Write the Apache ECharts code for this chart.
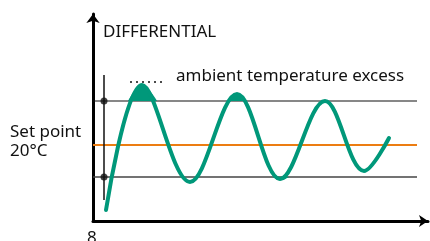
<!DOCTYPE html>
<html>
<head>
<meta charset="utf-8">
<script src="https://cdn.jsdelivr.net/npm/echarts@6/dist/echarts.min.js"></script>
<style>
  html, body { margin: 0; padding: 0; background: #fff; }
  #chart { width: 430px; height: 241px; }
</style>
</head>
<body>
<div id="chart"></div>
<script>
// time (t) vs temperature (°C), schematic
var setPoint = 20;
var upperLimit = 24.4;
var lowerLimit = 16.8;
var lineEnd = 324;

// room temperature curve: start, turning points, end
var wave = [
  [13, 13.5], [49, 26.0], [97, 16.3], [144, 25.1], [187, 16.6],
  [232, 24.4], [271, 17.4], [296, 20.7]
];
// parts of the curve going beyond the differential band
var excessAbove = [
  [[35, 24.4], [49, 26.0], [64, 24.4]],
  [[135, 24.4], [144, 25.1], [154, 24.4]]
];
var excessBelow = [
  [[180, 16.8], [187, 16.45], [196, 16.8]]
];
var marker = [[11, 27.0], [11, 14.5]];
var markerDots = [[11, upperLimit], [11, lowerLimit]];
var dotted = [[37, 26.3], [72, 26.3]];

var green = '#00987a';
var font = '"Noto Sans"';

var chart = echarts.init(document.getElementById('chart'));

var series = [];
function hline(v, color, w) {
  series.push({
    type: 'line', data: [[0, v], [lineEnd, v]], symbol: 'none', silent: true,
    lineStyle: { color: color, width: w }, z: 1
  });
}
hline(upperLimit, '#111', 1.2);
hline(lowerLimit, '#444', 1.5);
hline(setPoint, '#ec7d12', 2);

excessAbove.forEach(function (d) {
  series.push({
    type: 'line', data: d, smooth: 0.4, symbol: 'none', silent: true,
    lineStyle: { width: 0 },
    areaStyle: { color: green, opacity: 1, origin: upperLimit }, z: 2
  });
});
excessBelow.forEach(function (d) {
  series.push({
    type: 'line', data: d, smooth: 0.4, symbol: 'none', silent: true,
    lineStyle: { width: 0 },
    areaStyle: { color: green, opacity: 1, origin: lowerLimit }, z: 2
  });
});

series.push({
  type: 'line', data: wave, smooth: 0.36, symbol: 'none', silent: true,
  lineStyle: { color: green, width: 4, cap: 'round' }, z: 3
});
series.push({
  type: 'line', data: marker, symbol: 'none', silent: true,
  lineStyle: { color: '#111', width: 1.5 }, z: 4
});
series.push({
  type: 'scatter', data: markerDots, symbolSize: 7, silent: true,
  itemStyle: { color: '#111' }, z: 5
});
series.push({
  type: 'line', data: dotted, symbol: 'none', silent: true,
  lineStyle: { color: '#111', width: 1.5, type: [2, 4] }, z: 4
});

var option = {
  animation: false,
  grid: { left: 93, right: 2, top: 14, bottom: 20 },
  xAxis: {
    type: 'value', min: 0, max: 335,
    axisLine: { show: true, lineStyle: { color: '#000', width: 3 }, symbol: ['none', 'arrow'], symbolSize: [9, 9] },
    axisTick: { show: false }, axisLabel: { show: false }, splitLine: { show: false }
  },
  yAxis: {
    type: 'value', min: 12.4, max: 33.1,
    axisLine: { show: true, lineStyle: { color: '#000', width: 3 }, symbol: ['none', 'arrow'], symbolSize: [10, 9] },
    axisTick: { show: false }, axisLabel: { show: false }, splitLine: { show: false }
  },
  graphic: [
    { type: 'text', left: 103, top: 24, style: { text: 'DIFFERENTIAL', font: '17px ' + font, fill: '#111' } },
    { type: 'text', left: 176, top: 68, style: { text: 'ambient temperature excess', font: '17px ' + font, fill: '#111' } },
    { type: 'text', left: 10, top: 123, style: { text: 'Set point\n20°C', font: '17px ' + font, lineHeight: 19, fill: '#111' } },
    { type: 'text', left: 87, top: 230, style: { text: '8', font: '17px ' + font, fill: '#111' } }
  ],
  series: series
};
chart.setOption(option);
</script>
</body>
</html>
